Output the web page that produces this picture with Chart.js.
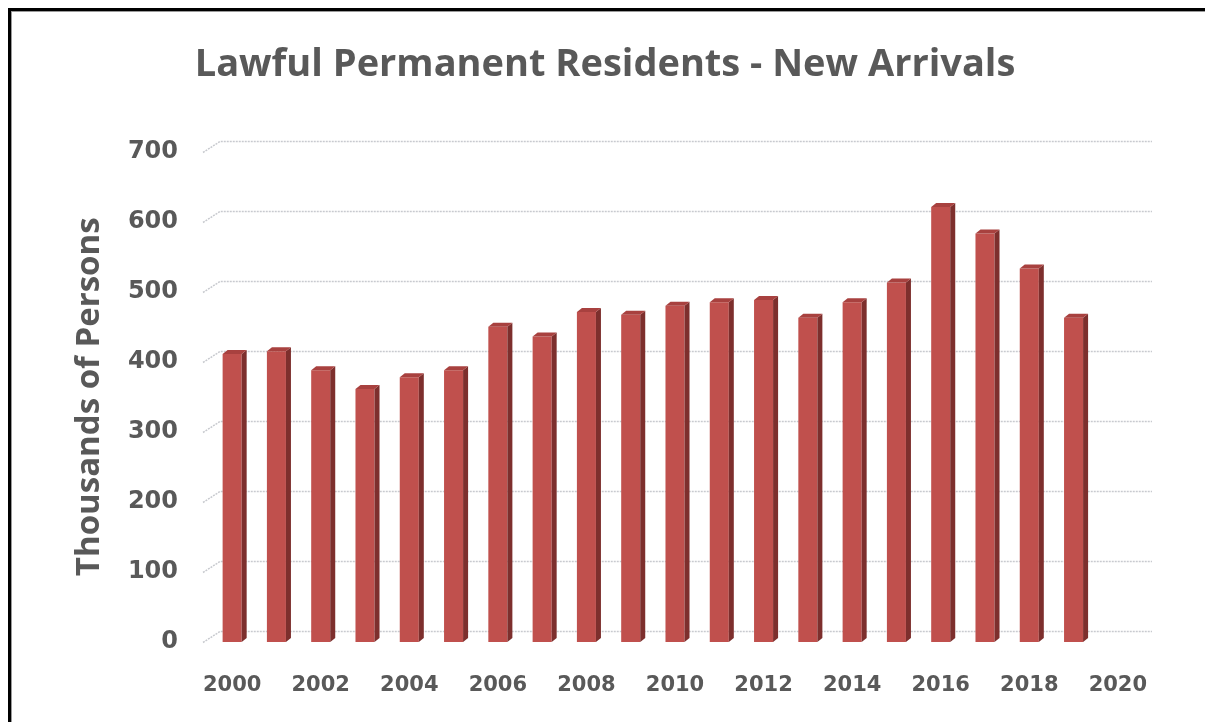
<!DOCTYPE html>
<html>
<head>
<meta charset="utf-8">
<script src="https://cdn.jsdelivr.net/npm/chart.js@4/dist/chart.umd.min.js"></script>
<style>
  html, body { margin: 0; padding: 0; background: #fff; }
  #wrap { position: relative; width: 1205px; height: 722px; overflow: hidden; }
  #frame {
    position: absolute; left: 8px; top: 8px; width: 1300px; height: 800px;
    border-top: 3px solid #000; border-left: 3px solid #000;
    box-shadow: inset 1px 1px 0 #9a9a9a;
  }
  #grafico { position: absolute; left: 0; top: 0; }
</style>
</head>
<body>
<div id="wrap">
  <div id="frame"></div>
  <canvas id="grafico" width="1205" height="722"></canvas>
</div>
<script>
// datos (miles de personas)
const anios = ['2000','2001','2002','2003','2004','2005','2006','2007','2008','2009',
               '2010','2011','2012','2013','2014','2015','2016','2017','2018','2019','2020'];
const llegadas = [411, 415, 388, 361, 378, 388, 450, 436, 471, 467,
                  480, 485, 488, 463, 485, 513, 621, 583, 533, 463, null];
const ticksY = [0, 100, 200, 300, 400, 500, 600, 700];

const gris = '#595959';

// lineas de la grilla con el pliegue 3D
const grilla3D = {
    id: 'grilla3D',
    beforeDatasetsDraw(chart) {
        const { ctx, chartArea, scales } = chart;
        ctx.save();
        ctx.strokeStyle = '#c8cacf';
        ctx.lineWidth = 1.5;
        ctx.setLineDash([2, 1]);
        ticksY.forEach(v => {
            const y = Math.round(scales.y.getPixelForValue(v)) + 0.5;
            ctx.beginPath();
            ctx.moveTo(chartArea.left - 7, y);
            ctx.lineTo(chartArea.left + 10, y - 11);
            ctx.lineTo(chartArea.right + 12, y - 11);
            ctx.stroke();
        });
        ctx.restore();
    }
};

// caras laterales y superiores de cada columna
const columnas3D = {
    id: 'columnas3D',
    afterDatasetsDraw(chart) {
        const { ctx } = chart;
        const d = 5, dy = 4;
        ctx.save();
        chart.getDatasetMeta(0).data.forEach((bar, i) => {
            if (llegadas[i] == null) return;
            const { x, y, base, width } = bar.getProps(['x', 'y', 'base', 'width'], true);
            const l = x - width / 2, r = x + width / 2;
            ctx.fillStyle = '#7d2f2d';
            ctx.beginPath();
            ctx.moveTo(r, y);
            ctx.lineTo(r + d, y - dy);
            ctx.lineTo(r + d, base - dy);
            ctx.lineTo(r, base);
            ctx.closePath();
            ctx.fill();
            ctx.fillStyle = '#a8413f';
            ctx.beginPath();
            ctx.moveTo(l, y);
            ctx.lineTo(l + d, y - dy);
            ctx.lineTo(r + d, y - dy);
            ctx.lineTo(r, y);
            ctx.closePath();
            ctx.fill();
        });
        ctx.restore();
    }
};

const ctx = document.getElementById('grafico');

new Chart(ctx, {
    type: 'bar',
    data: {
        labels: anios,
        datasets: [{
            label: 'Nuevas llegadas',
            data: llegadas,
            backgroundColor: '#c0504d',
            borderWidth: 0,
            categoryPercentage: 1,
            barPercentage: 0.43
        }]
    },
    options: {
        responsive: false,
        animation: false,
        devicePixelRatio: 1,
        layout: { padding: { left: 70, right: 65, top: 0, bottom: 0 } },
        plugins: {
            legend: { display: false },
            tooltip: { enabled: false },
            title: {
                display: true,
                text: 'Lawful Permanent Residents - New Arrivals',
                color: gris,
                font: { family: 'Open Sans', size: 38, weight: 'bold' },
                padding: { top: 42, bottom: 64 }
            }
        },
        scales: {
            x: {
                grid: { display: false, drawTicks: false },
                border: { display: false },
                ticks: {
                    autoSkip: false,
                    maxRotation: 0,
                    padding: 31,
                    color: gris,
                    font: { family: 'DejaVu Sans', size: 21, weight: 'bold' },
                    callback: function (val, i) { return i % 2 === 0 ? this.getLabelForValue(val) : ''; }
                },
                afterFit: s => { s.height = 80; }
            },
            y: {
                min: 0,
                max: 700,
                grid: { display: false, drawTicks: false },
                border: { display: false },
                ticks: {
                    stepSize: 100,
                    padding: 32,
                    color: gris,
                    font: { family: 'DejaVu Sans', size: 24, weight: 'bold' }
                },
                title: {
                    display: true,
                    text: 'Thousands of Persons',
                    color: gris,
                    font: { family: 'Open Sans', size: 33, weight: 'bold', lineHeight: 1.2 },
                    padding: { top: 0, bottom: 0 }
                },
                afterFit: s => { s.width = 140; }
            }
        }
    },
    plugins: [grilla3D, columnas3D]
});
</script>
</body>
</html>
